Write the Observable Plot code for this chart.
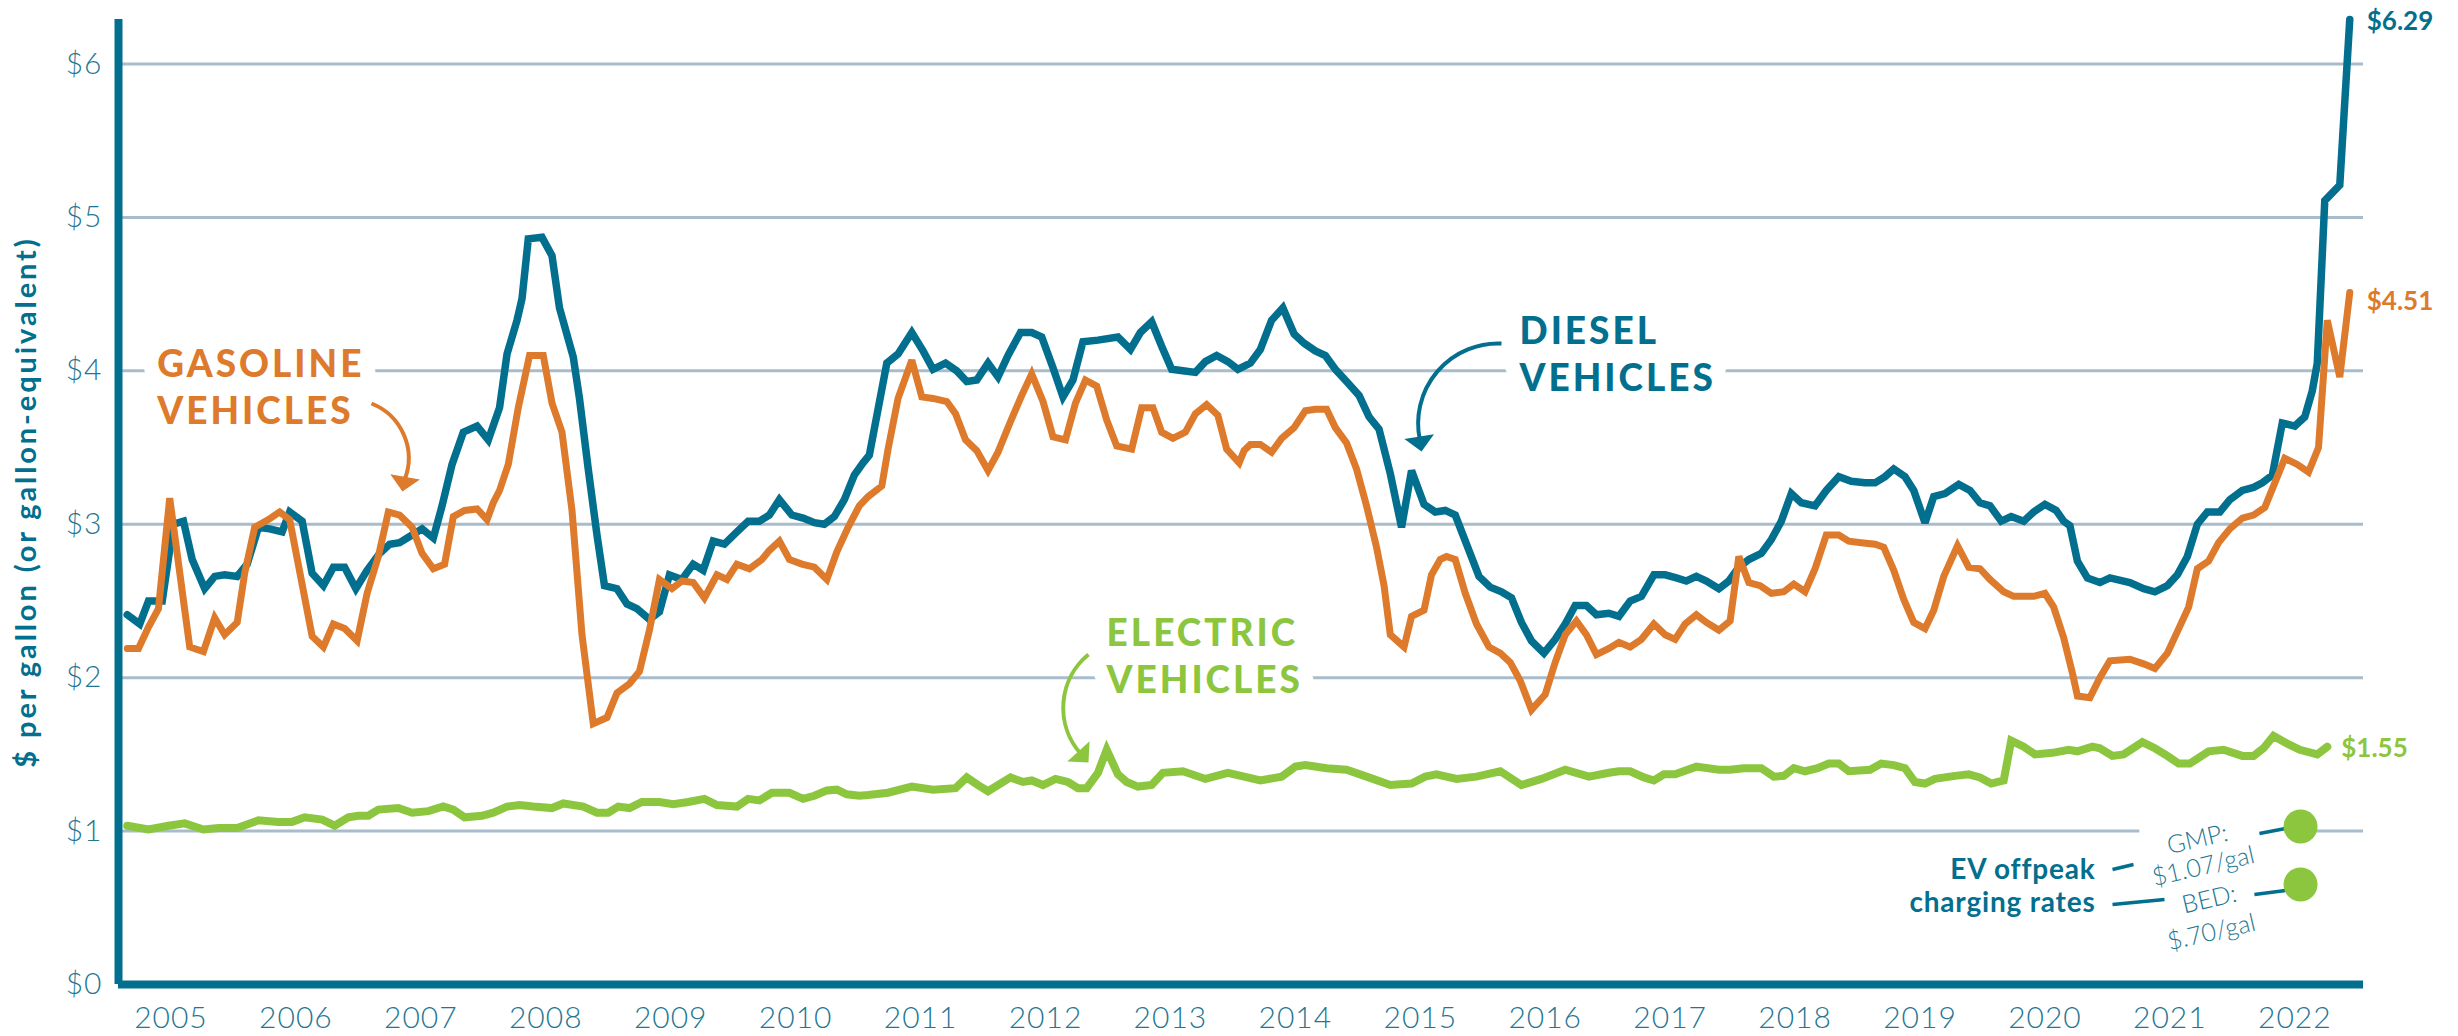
<!DOCTYPE html>
<html>
<head>
<meta charset="utf-8">
<script src="https://cdn.jsdelivr.net/npm/d3@7"></script>
<script src="https://cdn.jsdelivr.net/npm/@observablehq/plot@0.6"></script>
<style>
  html, body { margin: 0; padding: 0; background: #fff; }
  #chart svg { display: block; }
  g[aria-description="big-label"] text { letter-spacing: 3px; }
  g[aria-description="y-title"] text { letter-spacing: 2.9px; }
  g[aria-description="tick-labels"] text { letter-spacing: 1px; }
  g[aria-description="ev-label"] text { letter-spacing: 0.8px; }
</style>
</head>
<body>
<div id="chart"></div>
<script>
// ---------------- data ----------------
const dieselDates = [2004.65,2004.75,2004.82,2004.93,2005.02,2005.10,2005.17,2005.27,2005.35,2005.43,2005.53,2005.61,2005.70,2005.79,2005.89,2005.95,2006.05,2006.13,2006.22,2006.30,2006.39,2006.48,2006.57,2006.67,2006.75,2006.83,2006.93,2007.01,2007.10,2007.17,2007.25,2007.34,2007.45,2007.54,2007.63,2007.69,2007.77,2007.81,2007.86,2007.97,2008.05,2008.11,2008.22,2008.27,2008.34,2008.41,2008.47,2008.57,2008.65,2008.73,2008.83,2008.91,2008.99,2009.09,2009.18,2009.26,2009.34,2009.43,2009.53,2009.62,2009.71,2009.79,2009.87,2009.97,2010.06,2010.15,2010.23,2010.31,2010.39,2010.47,2010.54,2010.59,2010.73,2010.82,2010.93,2011.02,2011.10,2011.20,2011.29,2011.37,2011.45,2011.54,2011.62,2011.70,2011.80,2011.89,2011.97,2012.06,2012.14,2012.22,2012.30,2012.42,2012.58,2012.68,2012.76,2012.85,2012.93,2013.01,2013.10,2013.20,2013.28,2013.37,2013.46,2013.54,2013.64,2013.72,2013.81,2013.90,2013.99,2014.07,2014.16,2014.24,2014.32,2014.41,2014.51,2014.59,2014.67,2014.76,2014.85,2014.93,2015.03,2015.12,2015.20,2015.28,2015.37,2015.47,2015.56,2015.65,2015.73,2015.81,2015.89,2015.99,2016.08,2016.16,2016.24,2016.33,2016.41,2016.51,2016.59,2016.68,2016.77,2016.87,2016.96,2017.05,2017.13,2017.21,2017.29,2017.39,2017.47,2017.55,2017.63,2017.73,2017.81,2017.89,2017.97,2018.05,2018.16,2018.25,2018.35,2018.45,2018.56,2018.64,2018.72,2018.79,2018.88,2018.95,2019.04,2019.11,2019.20,2019.31,2019.40,2019.48,2019.56,2019.65,2019.73,2019.83,2019.91,2020.00,2020.09,2020.15,2020.20,2020.26,2020.34,2020.44,2020.52,2020.68,2020.79,2020.88,2020.98,2021.06,2021.14,2021.22,2021.30,2021.40,2021.48,2021.58,2021.67,2021.74,2021.82,2021.90,2022.00,2022.08,2022.14,2022.18,2022.24,2022.36,2022.44];
const dieselPrices = [2.41,2.35,2.50,2.50,3.00,3.02,2.77,2.58,2.66,2.67,2.66,2.74,2.98,2.97,2.95,3.08,3.02,2.68,2.60,2.72,2.72,2.58,2.70,2.81,2.87,2.88,2.93,2.97,2.91,3.12,3.39,3.60,3.64,3.55,3.76,4.11,4.33,4.47,4.86,4.87,4.75,4.41,4.09,3.82,3.36,2.93,2.60,2.58,2.48,2.45,2.38,2.43,2.67,2.64,2.74,2.70,2.89,2.87,2.95,3.02,3.02,3.06,3.16,3.06,3.04,3.01,3.00,3.05,3.16,3.32,3.40,3.45,4.05,4.11,4.25,4.13,4.01,4.05,4.00,3.93,3.94,4.05,3.96,4.10,4.25,4.25,4.22,4.02,3.83,3.94,4.19,4.20,4.22,4.14,4.25,4.32,4.16,4.01,4.00,3.99,4.06,4.10,4.06,4.01,4.05,4.14,4.33,4.41,4.24,4.18,4.13,4.10,4.01,3.93,3.84,3.70,3.62,3.33,2.98,3.35,3.13,3.08,3.09,3.06,2.87,2.66,2.59,2.56,2.52,2.36,2.24,2.16,2.25,2.35,2.47,2.47,2.41,2.42,2.40,2.50,2.53,2.67,2.67,2.65,2.63,2.66,2.63,2.58,2.63,2.72,2.77,2.81,2.90,3.02,3.20,3.14,3.12,3.22,3.31,3.28,3.27,3.27,3.31,3.36,3.31,3.22,3.01,3.18,3.20,3.26,3.22,3.14,3.12,3.02,3.05,3.02,3.08,3.13,3.09,3.02,2.99,2.76,2.65,2.62,2.65,2.62,2.58,2.56,2.60,2.67,2.79,3.00,3.08,3.08,3.16,3.22,3.24,3.27,3.32,3.66,3.64,3.70,3.87,4.05,5.11,5.21,6.29];

const gasolineDates = [2004.65,2004.74,2004.82,2004.90,2004.99,2005.15,2005.26,2005.35,2005.43,2005.53,2005.59,2005.67,2005.78,2005.87,2005.95,2006.13,2006.22,2006.30,2006.39,2006.49,2006.57,2006.66,2006.74,2006.83,2006.93,2007.01,2007.10,2007.19,2007.26,2007.35,2007.45,2007.53,2007.58,2007.63,2007.70,2007.78,2007.87,2007.98,2008.05,2008.13,2008.21,2008.29,2008.38,2008.49,2008.57,2008.67,2008.75,2008.83,2008.91,2009.01,2009.09,2009.18,2009.27,2009.37,2009.45,2009.53,2009.63,2009.73,2009.79,2009.87,2009.95,2010.05,2010.15,2010.25,2010.33,2010.42,2010.51,2010.58,2010.69,2010.74,2010.82,2010.93,2011.01,2011.10,2011.21,2011.28,2011.36,2011.45,2011.54,2011.62,2011.72,2011.81,2011.89,2011.98,2012.06,2012.16,2012.24,2012.32,2012.41,2012.49,2012.57,2012.69,2012.77,2012.86,2012.93,2013.02,2013.12,2013.20,2013.29,2013.38,2013.45,2013.55,2013.59,2013.64,2013.72,2013.81,2013.89,2013.99,2014.08,2014.16,2014.25,2014.32,2014.41,2014.49,2014.57,2014.65,2014.71,2014.76,2014.87,2014.93,2015.03,2015.09,2015.16,2015.21,2015.28,2015.36,2015.45,2015.55,2015.64,2015.72,2015.80,2015.89,2016.00,2016.08,2016.16,2016.25,2016.33,2016.41,2016.51,2016.59,2016.68,2016.77,2016.87,2016.96,2017.04,2017.12,2017.21,2017.29,2017.39,2017.48,2017.55,2017.63,2017.72,2017.81,2017.91,2017.99,2018.08,2018.16,2018.25,2018.35,2018.43,2018.53,2018.64,2018.71,2018.79,2018.87,2018.95,2019.04,2019.11,2019.19,2019.30,2019.39,2019.48,2019.56,2019.67,2019.75,2019.91,2020.00,2020.07,2020.15,2020.22,2020.26,2020.36,2020.44,2020.52,2020.68,2020.79,2020.88,2020.98,2021.06,2021.15,2021.22,2021.31,2021.39,2021.48,2021.58,2021.67,2021.76,2021.84,2021.92,2022.02,2022.11,2022.19,2022.26,2022.36,2022.44];
const gasolinePrices = [2.19,2.19,2.33,2.45,3.17,2.20,2.17,2.39,2.28,2.36,2.68,2.98,3.03,3.08,3.03,2.27,2.20,2.35,2.32,2.24,2.55,2.79,3.08,3.06,2.98,2.81,2.71,2.74,3.05,3.09,3.10,3.03,3.14,3.22,3.39,3.76,4.10,4.10,3.79,3.60,3.09,2.28,1.70,1.74,1.90,1.96,2.04,2.31,2.64,2.58,2.63,2.62,2.52,2.67,2.64,2.74,2.71,2.77,2.83,2.89,2.77,2.74,2.72,2.64,2.82,2.98,3.12,3.18,3.25,3.49,3.82,4.07,3.83,3.82,3.80,3.72,3.55,3.48,3.35,3.47,3.67,3.84,3.98,3.80,3.57,3.55,3.79,3.94,3.90,3.68,3.51,3.49,3.76,3.76,3.60,3.56,3.60,3.72,3.78,3.71,3.49,3.40,3.48,3.52,3.52,3.47,3.56,3.63,3.74,3.75,3.75,3.63,3.53,3.36,3.12,2.85,2.60,2.28,2.20,2.40,2.44,2.67,2.77,2.79,2.77,2.55,2.35,2.20,2.16,2.10,1.98,1.79,1.89,2.10,2.28,2.37,2.28,2.15,2.19,2.23,2.20,2.25,2.35,2.28,2.25,2.35,2.41,2.36,2.31,2.37,2.79,2.62,2.60,2.55,2.56,2.61,2.56,2.71,2.93,2.93,2.89,2.88,2.87,2.85,2.70,2.51,2.36,2.32,2.44,2.66,2.86,2.72,2.71,2.64,2.56,2.53,2.53,2.55,2.46,2.26,2.03,1.88,1.87,2.00,2.11,2.12,2.09,2.06,2.16,2.30,2.46,2.71,2.76,2.88,2.97,3.04,3.06,3.11,3.27,3.43,3.39,3.34,3.50,4.33,3.96,4.51];

const electricDates = [2004.65,2004.82,2004.98,2005.11,2005.26,2005.38,2005.53,2005.70,2005.86,2005.97,2006.07,2006.21,2006.31,2006.42,2006.50,2006.58,2006.66,2006.82,2006.93,2007.06,2007.18,2007.26,2007.35,2007.49,2007.58,2007.69,2007.79,2007.90,2008.05,2008.14,2008.30,2008.41,2008.50,2008.58,2008.67,2008.77,2008.91,2009.02,2009.14,2009.27,2009.37,2009.53,2009.62,2009.71,2009.81,2009.95,2010.06,2010.15,2010.25,2010.33,2010.41,2010.51,2010.58,2010.74,2010.93,2011.10,2011.28,2011.37,2011.46,2011.54,2011.72,2011.82,2011.89,2011.98,2012.08,2012.18,2012.26,2012.33,2012.42,2012.49,2012.58,2012.65,2012.74,2012.85,2012.94,2013.10,2013.28,2013.46,2013.59,2013.72,2013.89,2014.00,2014.08,2014.25,2014.41,2014.57,2014.76,2014.93,2015.04,2015.13,2015.29,2015.45,2015.64,2015.81,2015.97,2016.16,2016.35,2016.51,2016.59,2016.68,2016.79,2016.87,2016.95,2017.04,2017.21,2017.39,2017.48,2017.59,2017.73,2017.83,2017.91,2017.99,2018.08,2018.18,2018.27,2018.35,2018.43,2018.60,2018.69,2018.79,2018.88,2018.96,2019.04,2019.12,2019.28,2019.39,2019.48,2019.57,2019.67,2019.73,2019.83,2019.92,2020.06,2020.19,2020.26,2020.38,2020.44,2020.54,2020.63,2020.78,2020.88,2020.98,2021.07,2021.16,2021.31,2021.43,2021.58,2021.67,2021.75,2021.83,2021.94,2022.04,2022.18,2022.26];
const electricPrices = [1.035,1.01,1.035,1.05,1.01,1.02,1.02,1.07,1.06,1.06,1.09,1.075,1.035,1.09,1.10,1.10,1.14,1.15,1.12,1.13,1.16,1.14,1.09,1.10,1.12,1.16,1.17,1.16,1.15,1.18,1.16,1.12,1.12,1.16,1.15,1.19,1.19,1.175,1.19,1.21,1.17,1.16,1.21,1.20,1.25,1.25,1.21,1.23,1.265,1.27,1.24,1.23,1.235,1.25,1.29,1.27,1.28,1.35,1.30,1.26,1.35,1.32,1.33,1.30,1.34,1.32,1.28,1.28,1.38,1.53,1.37,1.32,1.29,1.30,1.38,1.39,1.34,1.38,1.355,1.33,1.355,1.42,1.43,1.41,1.40,1.355,1.30,1.31,1.355,1.37,1.34,1.355,1.39,1.30,1.34,1.40,1.355,1.38,1.39,1.39,1.35,1.33,1.37,1.37,1.42,1.40,1.40,1.41,1.41,1.355,1.36,1.41,1.39,1.41,1.44,1.44,1.39,1.40,1.44,1.43,1.41,1.32,1.31,1.34,1.36,1.37,1.35,1.31,1.33,1.59,1.55,1.50,1.51,1.53,1.52,1.55,1.54,1.49,1.50,1.58,1.54,1.49,1.44,1.44,1.52,1.53,1.49,1.49,1.54,1.62,1.57,1.53,1.50,1.55];

// tick values and labels
const yearTicks = [2005,2006,2007,2008,2009,2010,2011,2012,2013,2014,2015,2016,2017,2018,2019,2020,2021,2022];
const yTicks = [0,1,2,3,4,5,6];
const yTickLabels = ["$0","$1","$2","$3","$4","$5","$6"];
const yTitle = "$ per gallon (or gallon-equivalent)";

// series labels
const seriesNames = ["GASOLINE\nVEHICLES", "DIESEL\nVEHICLES", "ELECTRIC\nVEHICLES"];
const seriesLabelX = [2004.89, 2015.794, 2012.489];
const seriesLabelY = [3.904, 4.121, 2.149];
const endLabels = ["$6.29", "$4.51", "$1.55"];

// EV offpeak charging rates (GMP, BED) and their callouts
const evRateNames = ["GMP", "BED"];
const evRates = [1.07, 0.70];
const evRateDotX = [2022.046, 2022.046];
const evRateDotY = [1.030, 0.652];
const evRateText = [["GMP:", 2021.221, 0.945], ["$1.07/gal", 2021.269, 0.769], ["BED:", 2021.317, 0.554], ["$.70/gal", 2021.333, 0.339]];
const evTitle = [["EV offpeak", 2020.405, 0.743], ["charging rates", 2020.405, 0.528]];
const evLinks = [[2020.541, 0.750, 2020.709, 0.782], [2020.541, 0.521, 2020.957, 0.554], [2021.717, 0.984, 2021.926, 1.017], [2021.677, 0.587, 2021.926, 0.613]];

// curved callout arrows: [x1, y1, x2, y2, bend], and head tip [x, y, angle]
const arrowGas = [2006.605, 3.787, 2006.870, 3.290, 45];
const arrowDiesel = [2015.650, 4.178, 2014.996, 3.552, -52];
const arrowElectric = [2012.344, 2.151, 2012.280, 1.506, -46];
const headGas = [2006.853, 3.213, 190];
const headDiesel = [2015.010, 3.474, 171];
const headElectric = [2012.344, 1.447, 138];

// scales
const xDomain = [2004.58, 2022.55];
const yDomain = [0, 6.29];
const gridValues = [2, 3, 4, 5, 6];
const gridOneSegments = [[2004.58, 2020.76], [2021.92, 2022.55]];

// ---------------- styles ----------------
const TEAL = "#036f8e";
const ORANGE = "#dd7a2b";
const GREEN = "#8cc63f";
const GRID = "#a9bccc";
const TICK = "#1f7793";
const FONT = "Lato, 'Open Sans', sans-serif";

function headShape(deg, len, half) {
  const a = deg * Math.PI / 180;
  const ux = Math.sin(a), uy = -Math.cos(a);
  const px = -uy, py = ux;
  return {
    draw(ctx) {
      ctx.moveTo(0, 0);
      ctx.lineTo(-ux * len + px * half, -uy * len + py * half);
      ctx.lineTo(-ux * len - px * half, -uy * len - py * half);
      ctx.closePath();
    }
  };
}

function arrowMark(a, color) {
  return Plot.arrow([a], {
    x1: d => d[0], y1: d => d[1], x2: d => d[2], y2: d => d[3],
    bend: a[4], headLength: 0, stroke: color, strokeWidth: 4, strokeLinecap: "butt"
  });
}
function headMark(h, color) {
  return Plot.dot([h], {
    x: d => d[0], y: d => d[1], r: 10,
    symbol: headShape(h[2], 15, 15), fill: color, stroke: "none"
  });
}

const seriesColors = [ORANGE, TEAL, GREEN];
const labelRows = seriesNames.map((t, i) => ({t, x: seriesLabelX[i], y: seriesLabelY[i], c: seriesColors[i]}));

const lastDiesel = {x: dieselDates[dieselDates.length - 1], y: dieselPrices[dieselPrices.length - 1], t: endLabels[0]};
const lastGas = {x: gasolineDates[gasolineDates.length - 1], y: gasolinePrices[gasolinePrices.length - 1], t: endLabels[1]};
const lastElec = {x: electricDates[electricDates.length - 1], y: electricPrices[electricPrices.length - 1], t: endLabels[2]};

const chart = Plot.plot({
  width: 2458,
  height: 1036,
  marginLeft: 118,
  marginRight: 95,
  marginTop: 19,
  marginBottom: 52,
  style: {fontFamily: FONT, background: "white", overflow: "visible"},
  x: {domain: xDomain},
  y: {domain: yDomain},
  marks: [
    // gridlines
    Plot.ruleY(gridValues, {stroke: GRID, strokeWidth: 3}),
    Plot.ruleY(gridOneSegments, {y: () => 1, x1: d => d[0], x2: d => d[1], stroke: GRID, strokeWidth: 3}),

    // series labels with white halo (break the gridlines)
    Plot.text(labelRows, {
      x: "x", y: "y", text: "t", fill: "c", textAnchor: "start", lineAnchor: "middle",
      fontSize: 37, fontWeight: 900, lineHeight: 1.27,
      stroke: "white", strokeWidth: 30, strokeLinejoin: "round", paintOrder: "stroke",
      ariaDescription: "big-label"
    }),

    // callout arrows
    arrowMark(arrowGas, ORANGE), headMark(headGas, ORANGE),
    arrowMark(arrowDiesel, TEAL), headMark(headDiesel, TEAL),
    arrowMark(arrowElectric, GREEN), headMark(headElectric, GREEN),

    // data lines
    Plot.line(electricPrices, {x: electricDates, y: electricPrices, stroke: GREEN, strokeWidth: 8, strokeLinejoin: "miter", strokeMiterlimit: 3}),
    Plot.line(dieselPrices, {x: dieselDates, y: dieselPrices, stroke: TEAL, strokeWidth: 7.5, strokeLinejoin: "miter", strokeMiterlimit: 3}),
    Plot.line(gasolinePrices, {x: gasolineDates, y: gasolinePrices, stroke: ORANGE, strokeWidth: 7, strokeLinejoin: "miter", strokeMiterlimit: 3}),

    // axis lines
    Plot.ruleY([0], {stroke: TEAL, strokeWidth: 8, strokeLinecap: "butt"}),
    Plot.ruleX([xDomain[0]], {stroke: TEAL, strokeWidth: 8, strokeLinecap: "butt"}),

    // tick labels
    Plot.axisX(yearTicks, {tickFormat: d => String(d), tickSize: 0, tickPadding: 22, fontSize: 30, fontWeight: 300, fill: TICK, label: null, ariaDescription: "tick-labels"}),
    Plot.axisY(yTicks, {tickFormat: d => yTickLabels[yTicks.indexOf(d)], tickSize: 0, tickPadding: 16, fontSize: 30, fontWeight: 300, fill: TICK, label: null, ariaDescription: "tick-labels"}),

    // y title
    Plot.text([yTitle], {frameAnchor: "left", textAnchor: "middle", rotate: -90, dx: -92, fontSize: 29, fontWeight: 700, fill: TEAL, ariaDescription: "y-title"}),

    // end labels
    Plot.text([lastDiesel], {x: "x", y: "y", text: "t", dx: 17, dy: 2, textAnchor: "start", fontSize: 26, fontWeight: 700, fill: TEAL}),
    Plot.text([lastGas], {x: "x", y: "y", text: "t", dx: 17, dy: 9, textAnchor: "start", fontSize: 26, fontWeight: 700, fill: ORANGE}),
    Plot.text([lastElec], {x: "x", y: "y", text: "t", dx: 14, dy: 2, textAnchor: "start", fontSize: 26, fontWeight: 700, fill: GREEN}),

    // EV offpeak charging rates callout
    Plot.link(evLinks, {x1: d => d[0], y1: d => d[1], x2: d => d[2], y2: d => d[3], stroke: TEAL, strokeWidth: 3.5}),
    Plot.text(evTitle, {x: d => d[1], y: d => d[2], text: d => d[0], textAnchor: "end", fontSize: 28, fontWeight: 700, fill: TEAL, ariaDescription: "ev-label"}),
    Plot.text(evRateText, {x: d => d[1], y: d => d[2], text: d => d[0], rotate: -13, fontSize: 25, fontWeight: 300, fill: TICK}),
    Plot.dot(evRateNames, {x: (d, i) => evRateDotX[i], y: (d, i) => evRateDotY[i], r: 17, fill: GREEN, stroke: "none"})
  ]
});

document.getElementById("chart").appendChild(chart);
</script>
</body>
</html>
